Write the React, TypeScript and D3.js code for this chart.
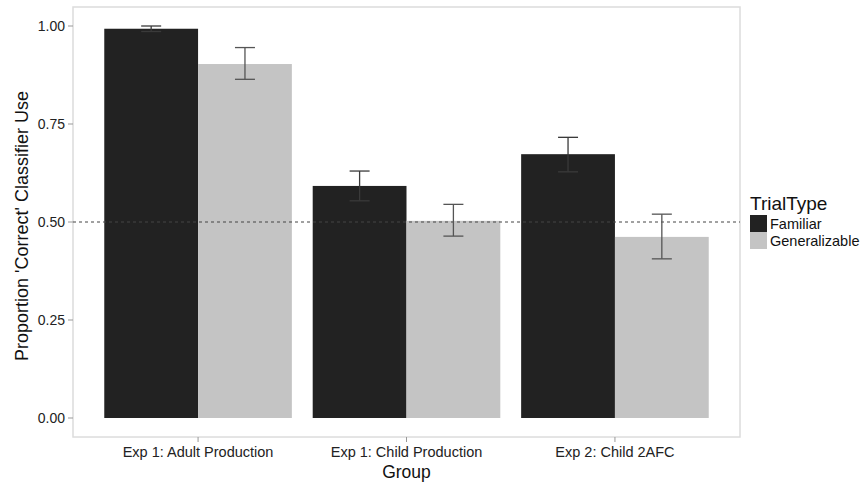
import React from "react";
import * as d3 from "d3";

const groups = ["Exp 1: Adult Production", "Exp 1: Child Production", "Exp 2: Child 2AFC"];
const trialTypes = ["Familiar", "Generalizable"];
const familiarMean = [0.993, 0.592, 0.673];
const familiarLo = [0.986, 0.554, 0.628];
const familiarHi = [1.0, 0.63, 0.716];
const generalMean = [0.903, 0.503, 0.462];
const generalLo = [0.864, 0.464, 0.406];
const generalHi = [0.945, 0.545, 0.52];
const yTicks = [0, 0.25, 0.5, 0.75, 1.0];

const W = 867, H = 487;
const panel = { left: 73, top: 7, right: 740, bottom: 437 };
const colors = ["#222222", "#c4c4c4"];

export default function App() {
  // discrete x axis, ggplot style: 3 groups spread over 3.2 units
  const step = (panel.right - panel.left) / 3.2;
  const x = d3.scalePoint().domain(groups).range([panel.left + 0.6 * step, panel.right - 0.6 * step]);
  const groupW = step * 0.9;
  const sub = d3.scaleBand().domain(trialTypes).range([-groupW / 2, groupW / 2]);
  const y = d3.scaleLinear().domain([0, 1]).range([418, 26]);

  const rows = groups.flatMap((g, i) => [
    { g, t: 0, mean: familiarMean[i], lo: familiarLo[i], hi: familiarHi[i] },
    { g, t: 1, mean: generalMean[i], lo: generalLo[i], hi: generalHi[i] },
  ]);

  const font = "'Liberation Sans', Arial, sans-serif";

  return (
    <svg width={W} height={H} style={{ position: "absolute", left: 0, top: 0 }} fontFamily={font}>
      <rect x={0} y={0} width={W} height={H} fill="#fff" />
      <rect x={panel.left} y={panel.top} width={panel.right - panel.left} height={panel.bottom - panel.top}
        fill="#fff" stroke="#dcdcdc" strokeWidth={1.5} />
      {rows.map((r) => (
        <rect key={`${r.g}-${r.t}`} x={x(r.g)! + sub(trialTypes[r.t])!} y={y(r.mean)}
          width={sub.bandwidth()} height={y(0) - y(r.mean)} fill={colors[r.t]} />
      ))}
      <line x1={panel.left} x2={panel.right} y1={y(0.5)} y2={y(0.5)} stroke="#444" strokeWidth={1} strokeDasharray="3,3" />
      {rows.map((r) => {
        const cx = x(r.g)! + sub(trialTypes[r.t])! + sub.bandwidth() / 2;
        const c = r.t === 0 ? "#3a3a3a" : "#555";
        return (
          <g key={`e-${r.g}-${r.t}`} stroke={c} strokeWidth={1.3} fill="none">
            <line x1={cx} x2={cx} y1={y(r.lo)} y2={y(r.hi)} />
            <line x1={cx - 10} x2={cx + 10} y1={y(r.lo)} y2={y(r.lo)} />
            <line x1={cx - 10} x2={cx + 10} y1={y(r.hi)} y2={y(r.hi)} />
          </g>
        );
      })}
      {yTicks.map((t) => (
        <g key={t}>
          <line x1={panel.left - 5} x2={panel.left} y1={y(t)} y2={y(t)} stroke="#999" />
          <text x={panel.left - 8} y={y(t)} dy="0.35em" textAnchor="end" fontSize={14} fill="#222">
            {d3.format(".2f")(t)}
          </text>
        </g>
      ))}
      {groups.map((g) => (
        <g key={g}>
          <line x1={x(g)!} x2={x(g)!} y1={panel.bottom} y2={panel.bottom + 5} stroke="#999" />
          <text x={x(g)!} y={panel.bottom + 20} textAnchor="middle" fontSize={14.5} fill="#222">{g}</text>
        </g>
      ))}
      <text x={(panel.left + panel.right) / 2} y={478} textAnchor="middle" fontSize={17.5} fill="#111">Group</text>
      <text transform={`translate(28,${(panel.top + panel.bottom) / 2 + 4}) rotate(-90)`} textAnchor="middle" fontSize={18} fill="#111">
        Proportion 'Correct' Classifier Use
      </text>
      <text x={750} y={210} fontSize={19} fill="#111">TrialType</text>
      {trialTypes.map((t, i) => (
        <g key={t}>
          <rect x={750} y={215 + i * 17} width={17} height={17} fill={colors[i]} />
          <text x={770} y={223.5 + i * 17} dy="0.35em" fontSize={14.5} fill="#111">{t}</text>
        </g>
      ))}
    </svg>
  );
}
